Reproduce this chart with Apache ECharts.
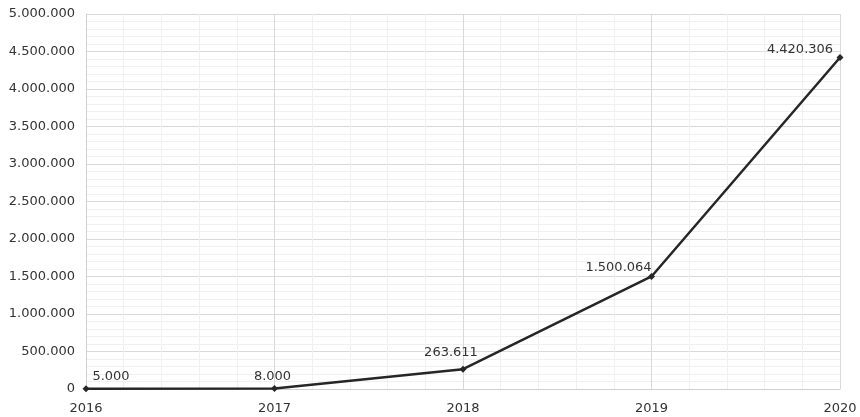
<!DOCTYPE html>
<html>
<head>
<meta charset="utf-8">
<script src="https://cdn.jsdelivr.net/npm/echarts@6/dist/echarts.min.js"></script>
<style>
  html, body { margin: 0; padding: 0; background: #fff; }
  #chart { width: 860px; height: 417px; }
</style>
</head>
<body>
<div id="chart"></div>
<script>
  // data
  var years = [2016, 2017, 2018, 2019, 2020];
  var values = [5000, 8000, 263611, 1500064, 4420306];

  // label placement relative to each point (layout only)
  var labelOffsets = [[25, -12], [-2, -12], [-12, -17], [-33, -9], [-40, -8]];

  function dots(v) {
    return String(v).replace(/\B(?=(\d{3})+(?!\d))/g, '.');
  }

  var chart = echarts.init(document.getElementById('chart'));
  var font = 'DejaVu Sans';
  chart.setOption({
    animation: false,
    grid: { left: 86, right: 20, top: 14, bottom: 28 },
    xAxis: {
      type: 'value',
      min: 2016,
      max: 2020,
      interval: 1,
      axisLine: { show: true, lineStyle: { color: '#d0d0d0' } },
      axisTick: { show: false },
      axisLabel: {
        color: '#333', fontFamily: font, fontSize: 13, margin: 13,
        formatter: function (v) { return String(v); }
      },
      splitLine: { show: true, lineStyle: { color: '#d9d9d9' } },
      minorTick: { show: false, splitNumber: 5 },
      minorSplitLine: { show: true, lineStyle: { color: '#f0f0f0' } }
    },
    yAxis: {
      type: 'value',
      min: 0,
      max: 5000000,
      interval: 500000,
      axisLine: { show: true, lineStyle: { color: '#d0d0d0' } },
      axisTick: { show: false },
      axisLabel: {
        color: '#333', fontFamily: font, fontSize: 13, margin: 11,
        formatter: function (v) { return dots(v); }
      },
      splitLine: { show: true, lineStyle: { color: '#d9d9d9' } },
      minorTick: { show: false, splitNumber: 5 },
      minorSplitLine: { show: true, lineStyle: { color: '#f0f0f0' } }
    },
    series: [{
      type: 'line',
      symbol: 'diamond',
      symbolSize: 7,
      lineStyle: { color: '#262626', width: 2.5 },
      itemStyle: { color: '#262626' },
      label: {
        show: true,
        position: 'inside',
        color: '#333',
        fontFamily: font,
        fontSize: 13,
        formatter: function (p) { return dots(p.value[1]); }
      },
      data: years.map(function (y, i) {
        return { value: [y, values[i]], label: { offset: labelOffsets[i] } };
      })
    }]
  });
</script>
</body>
</html>
